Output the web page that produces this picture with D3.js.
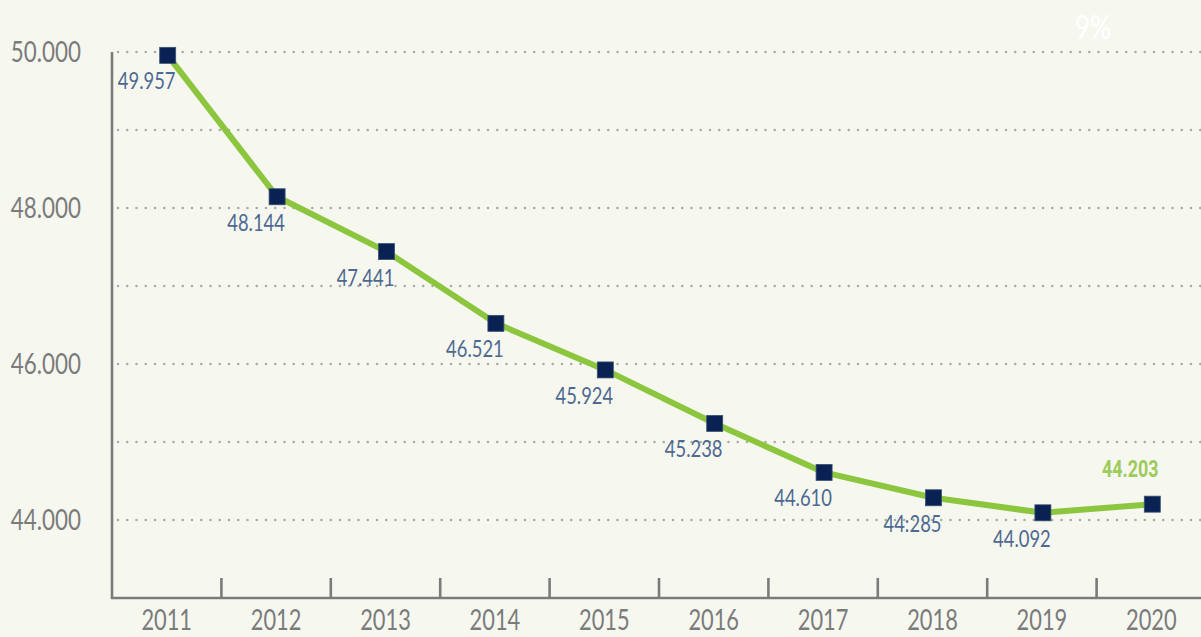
<!DOCTYPE html>
<html>
<head>
<meta charset="utf-8">
<script src="https://cdn.jsdelivr.net/npm/d3@7"></script>
<style>
  html, body { margin: 0; padding: 0; background: #f6f8f0; }
  svg { display: block; }
  text { font-family: Lato, "Open Sans", sans-serif; }
</style>
</head>
<body>
<svg id="chart" width="1201" height="637"></svg>
<script>
const years = ["2011","2012","2013","2014","2015","2016","2017","2018","2019","2020"];
const values = [49957, 48144, 47441, 46521, 45924, 45238, 44610, 44285, 44092, 44203];
const valueLabels = ["49.957","48.144","47.441","46.521","45.924","45.238","44.610","44:285","44.092","44.203"];
const yTickValues = [44000, 46000, 48000, 50000];
const yTickLabels = ["44.000","46.000","48.000","50.000"];
const gridValues = [44000, 45000, 46000, 47000, 48000, 49000, 50000];
const cornerText = "9%";

const svg = d3.select("#chart");
const W = 1201, H = 637;

const x = d3.scaleBand().domain(years).range([112, 1206]);
const y = d3.scaleLinear().domain([43000, 50000]).range([598, 52]);
const cx = d => x(d) + x.bandwidth() / 2 + 1;

const bg = "#f6f8f0";
svg.append("rect").attr("width", W).attr("height", H).attr("fill", bg);

function place(sel, fx, fy, sx) {
  return sel.attr("transform", (d, i) => `translate(${fx(d, i)},${fy(d, i)}) scale(${sx},1)`);
}

// grid
svg.append("g").selectAll("line").data(gridValues).join("line")
  .attr("x1", 118).attr("x2", W)
  .attr("y1", d => y(d)).attr("y2", d => y(d))
  .attr("stroke", "#a9aaa8").attr("stroke-width", 2.6)
  .attr("stroke-linecap", "round").attr("stroke-dasharray", "0 9.25");

// corner text
place(svg.append("text").datum(cornerText), () => 1093, () => 39, 0.8)
  .attr("text-anchor", "middle").attr("font-size", 33)
  .attr("fill", "#ffffff").text(d => d);

// axes
const axisColor = "#7b7b7b";
svg.append("line").attr("x1", 112).attr("x2", 112).attr("y1", y(50000)).attr("y2", y(43000) + 1)
  .attr("stroke", axisColor).attr("stroke-width", 2.6);
svg.append("line").attr("x1", 111).attr("x2", W).attr("y1", y(43000)).attr("y2", y(43000))
  .attr("stroke", axisColor).attr("stroke-width", 2.6);

// x ticks at band boundaries
svg.append("g").selectAll("line").data(years.slice(1)).join("line")
  .attr("x1", d => x(d)).attr("x2", d => x(d))
  .attr("y1", y(43000)).attr("y2", y(43000) - 20)
  .attr("stroke", axisColor).attr("stroke-width", 2.6);

// x labels
place(svg.append("g").selectAll("text").data(years).join("text"),
      d => x(d) + x.bandwidth() / 2, () => 630, 0.78)
  .attr("text-anchor", "middle").attr("font-size", 28).attr("fill", "#7b7b7b")
  .text(d => d);

// y labels
place(svg.append("g").selectAll("text").data(yTickValues).join("text"),
      () => 81, d => y(d) + 10, 0.8)
  .attr("text-anchor", "end").attr("font-size", 28).attr("fill", "#7b7b7b")
  .text((d, i) => yTickLabels[i]);

const pts = years.map((yr, i) => ({ yr, v: values[i], lab: valueLabels[i], i }));

// line
svg.append("path").datum(pts)
  .attr("d", d3.line().x(d => cx(d.yr)).y(d => y(d.v)))
  .attr("fill", "none").attr("stroke", "#8cc63e").attr("stroke-width", 6)
  .attr("stroke-linejoin", "round");

// markers
const s = 16;
svg.append("g").selectAll("rect").data(pts).join("rect")
  .attr("x", d => cx(d.yr) - s / 2)
  .attr("y", d => y(d.v) - s / 2)
  .attr("width", s).attr("height", s)
  .attr("fill", "#0a2253").attr("stroke", "#3a5070").attr("stroke-width", 0.8);

// value labels
const last = pts.length - 1;
place(svg.append("g").selectAll("text").data(pts.slice(0, last)).join("text"),
      d => cx(d.yr) - 21, d => y(d.v) + 34, 0.8)
  .attr("text-anchor", "middle").attr("font-size", 23).attr("fill", "#4d6891")
  .text(d => d.lab);

place(svg.append("text").datum(pts[last]),
      d => cx(d.yr) - 22, d => y(d.v) - 27, 0.78)
  .attr("text-anchor", "middle")
  .style("font-family", "Roboto, 'Open Sans', sans-serif")
  .style("font-weight", "700").style("font-size", "23px")
  .attr("fill", "#9dcb5c")
  .text(d => d.lab);
</script>
</body>
</html>
